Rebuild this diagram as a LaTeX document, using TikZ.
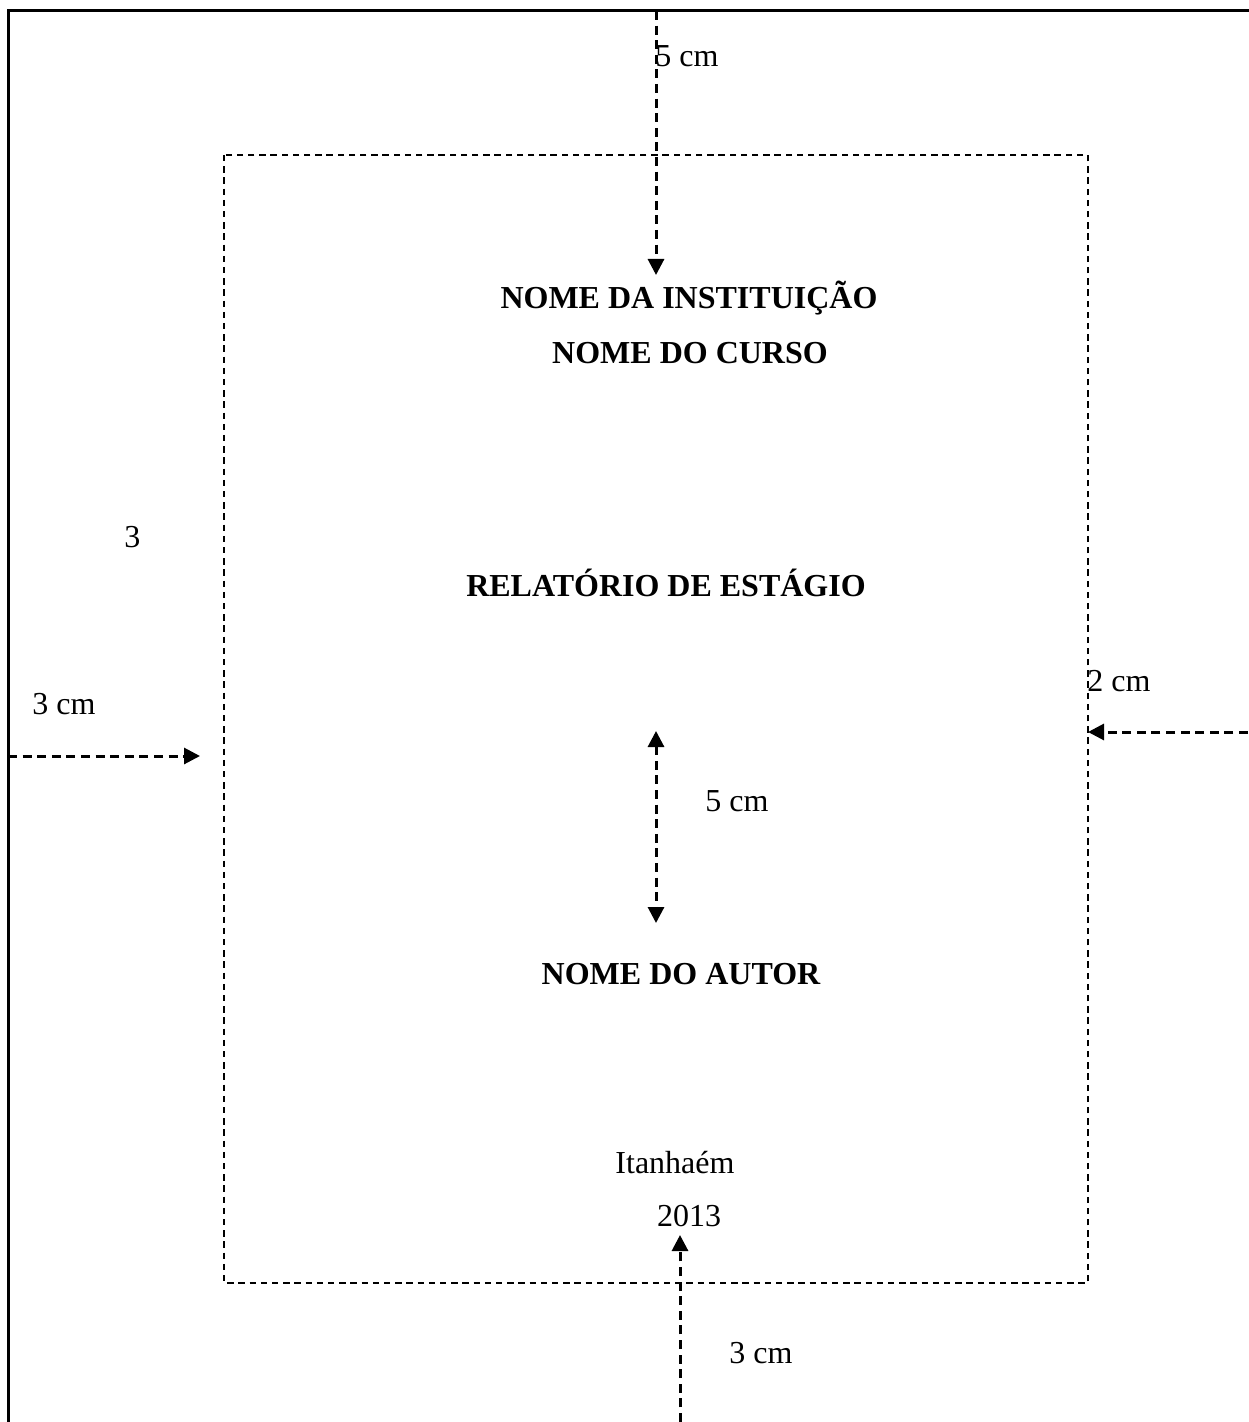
\documentclass[tikz,border=0pt]{standalone}
\usepackage{fontspec}
\setmainfont{Liberation Serif}
\usetikzlibrary{arrows.meta}
\begin{document}
\begin{tikzpicture}[x=0.5pt,y=-0.5pt,
  frame/.style={line width=1.5pt},
  margin/.style={line width=1.1pt,dash pattern=on 3.2pt off 2.4pt},
  dimarrow/.style={line width=1.5pt,dash pattern=on 4.5pt off 2.8pt,-{Triangle[length=8pt,width=8pt]}},
  dimboth/.style={line width=1.5pt,dash pattern=on 4.5pt off 2.8pt,{Triangle[length=8pt,width=8pt]}-{Triangle[length=8pt,width=8pt]}},
  lbl/.style={font=\fontsize{16pt}{19pt}\selectfont,inner sep=0pt},
  title/.style={font=\fontsize{16pt}{19pt}\selectfont\bfseries,inner sep=0pt,anchor=base}]
\useasboundingbox (0,0) rectangle (1248,1422);
% outer page
\coordinate (pbl) at (8,1423);
\coordinate (ptl) at (8,11);
\coordinate (ptr) at (1249,11);
\draw[frame] (pbl) -- (ptl) -- (ptr);
% margin box
\coordinate (mtl) at (224,155);
\coordinate (mbr) at (1088,1283);
\draw[margin] (mtl) rectangle (mbr);
% arrows
\coordinate (ta1) at (656,11);
\coordinate (ta2) at (656,275);
\draw[dimarrow] (ta1) -- (ta2);
\coordinate (la1) at (8,756);
\coordinate (la2) at (200,756);
\draw[dimarrow] (la1) -- (la2);
\coordinate (ra1) at (1248,732);
\coordinate (ra2) at (1088,732);
\draw[dimarrow] (ra1) -- (ra2);
\coordinate (ma1) at (656,731);
\coordinate (ma2) at (656,923);
\draw[dimboth] (ma1) -- (ma2);
\coordinate (ba1) at (680,1422);
\coordinate (ba2) at (680,1235);
\draw[dimarrow] (ba1) -- (ba2);
% labels
\node[lbl,anchor=base west] (l5top) at (655,67) {5 cm};
\node[lbl,anchor=base west] (l3left) at (32,714) {3 cm};
\node[lbl,anchor=base west] (l3) at (124,547) {3};
\node[lbl,anchor=base west] (l2) at (1087,691) {2 cm};
\node[lbl,anchor=base west] (l5mid) at (705,811) {5 cm};
\node[lbl,anchor=base west] (l3bot) at (729,1363) {3 cm};
% titles
\node[title] (inst) at (689,309) {NOME DA INSTITUIÇÃO};
\node[title] (curso) at (690,364) {NOME DO CURSO};
\node[title] (rel) at (666,596) {RELATÓRIO DE ESTÁGIO};
\node[title] (autor) at (681,984) {NOME DO AUTOR};
\node[lbl,anchor=base] (cidade) at (675,1173) {Itanhaém};
\node[lbl,anchor=base] (ano) at (689,1226) {2013};
\end{tikzpicture}
\end{document}
